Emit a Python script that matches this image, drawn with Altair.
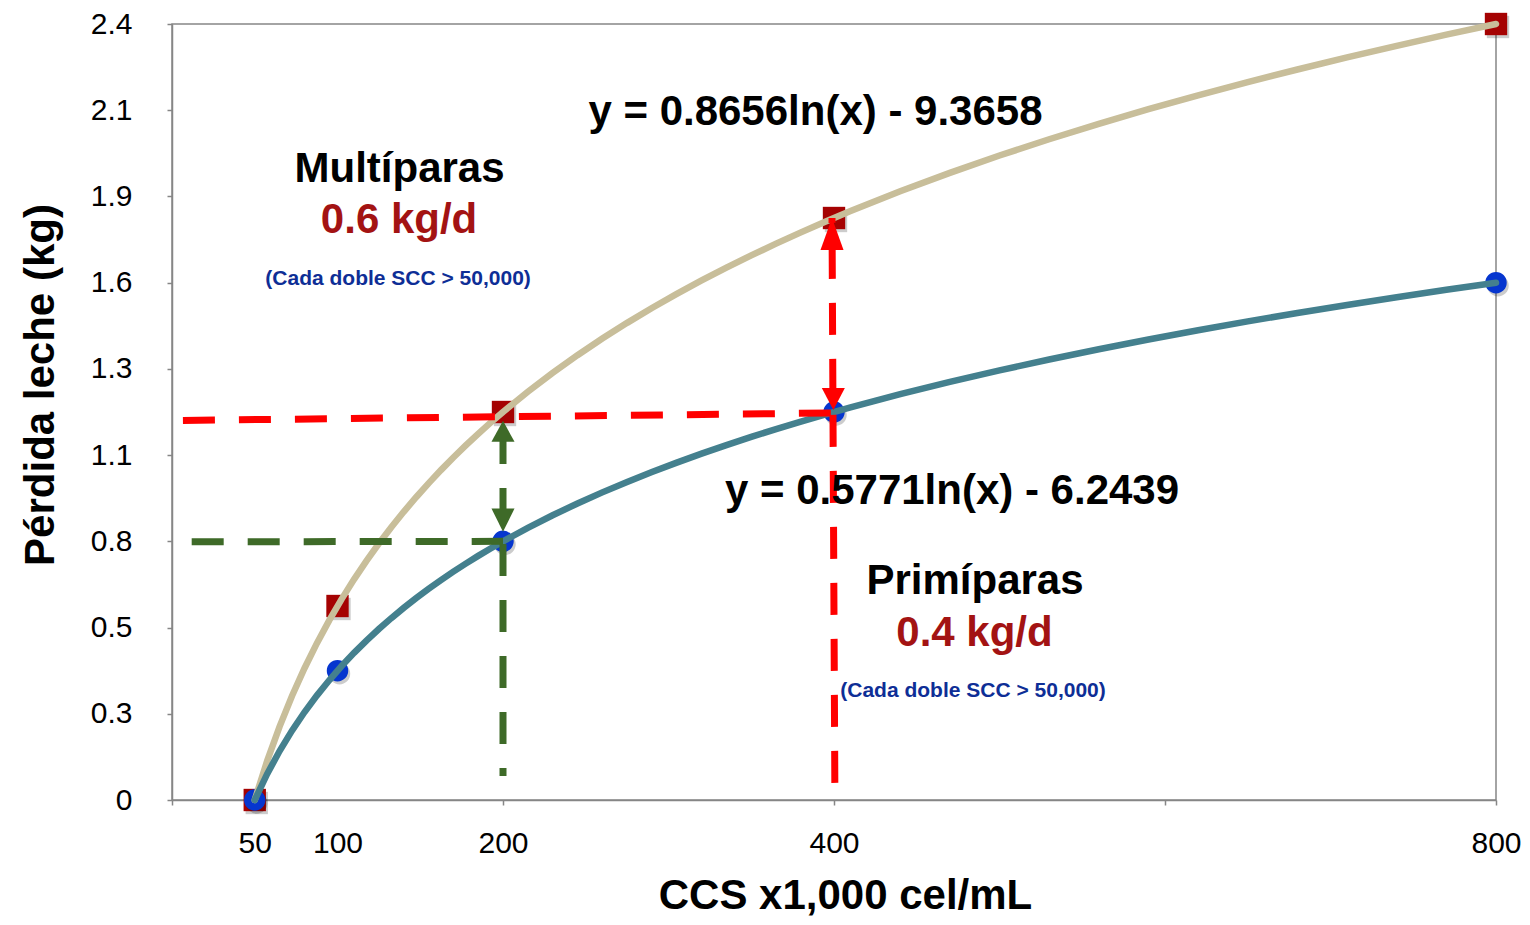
import altair as alt
import pandas as pd

# ---------------- data ----------------
ccs = [50, 100, 200, 400, 800]
primiparas = [0.0, 0.4, 0.8, 1.2, 1.6]
multiparas = [0.0, 0.6, 1.2, 1.8, 2.4]

x_tick_values = [0, 200, 400, 600, 800]
x_label_values = [50, 100, 200, 400, 800]
y_tick_values = [0, 0.266667, 0.533333, 0.8, 1.066667, 1.333333, 1.6, 1.866667, 2.133333, 2.4]

# dashed guide lines (start -> end, in data units)
seg_x1 = [6.6, 400.5, 11.9, 200.0]
seg_y1 = [1.174, 0.053, 0.7985, 1.138]
seg_x2 = [400.0, 398.8, 200.0, 200.0]
seg_y2 = [1.197, 1.80, 0.80, 0.0742]
seg_color = ["#FF0000", "#FF0000", "#3E6A28", "#3E6A28"]

# arrow heads (tip positions)
arr_x = [398.8, 399.6, 200.0, 200.0]
arr_y = [1.80, 1.206, 1.173, 0.830]
arr_shape = [
    "M0,0L-0.36,1L0.36,1Z",
    "M0,0L-0.36,-0.69L0.36,-0.69Z",
    "M0,0L-0.36,0.66L0.36,0.66Z",
    "M0,0L-0.36,-0.72L0.36,-0.72Z",
]
arr_color = ["#FF0000", "#FF0000", "#3E6A28", "#3E6A28"]

# annotations
ann_text = [
    "y = 0.8656ln(x) - 9.3658",
    "Multíparas",
    "0.6 kg/d",
    "(Cada doble SCC > 50,000)",
    "y = 0.5771ln(x) - 6.2439",
    "Primíparas",
    "0.4 kg/d",
    "(Cada doble SCC > 50,000)",
]
ann_x = [388.8, 137.5, 137.2, 136.6, 471.3, 485.2, 484.9, 484.0]
ann_y = [2.0876, 1.9113, 1.7536, 1.5943, 0.9155, 0.6371, 0.4763, 0.3201]
ann_color = ["#000000", "#000000", "#A31313", "#0E2E96",
             "#000000", "#000000", "#A31313", "#0E2E96"]
ann_size = [42, 42, 42, 21, 42, 42, 42, 21]

# ---------------- styles ----------------
FONT = "Liberation Sans"
GRAY = "#868686"
TAN = "#C8BE9A"
TEAL = "#44808E"
SQ_RED = "#A50202"
DOT_BLUE = "#0636CF"

pts = pd.DataFrame({
    "ccs": ccs * 2,
    "perdida": multiparas + primiparas,
    "serie": ["Multíparas"] * 5 + ["Primíparas"] * 5,
})
segs = pd.DataFrame({"x1": seg_x1, "y1": seg_y1, "x2": seg_x2, "y2": seg_y2, "color": seg_color})
arrows = pd.DataFrame({"x": arr_x, "y": arr_y, "shape": arr_shape, "color": arr_color})
ann = pd.DataFrame({"text": ann_text, "x": ann_x, "y": ann_y, "color": ann_color, "fs": ann_size})

xscale = alt.Scale(domain=[0, 800], nice=False, zero=False)
yscale = alt.Scale(domain=[0, 2.4], nice=False, zero=False)

y_axis = alt.Axis(
    values=y_tick_values,
    labelExpr="datum.value == 0 ? '0' : format(datum.value, '.1f')",
    labelFont=FONT, labelFontSize=30, labelColor="#000000", labelPadding=35,
    tickSize=5, tickWidth=1.5, tickColor=GRAY,
    domainColor=GRAY, domainWidth=1.5, grid=False,
    title="Pérdida leche (kg)", titleFont=FONT, titleFontSize=42,
    titleFontWeight="bold", titleColor="#000000",
    titleX=-118.5, titleY=360.5, titleBaseline="alphabetic", titleAlign="center",
    labelFlush=False, labelOverlap=False,
)

x_tick_axis = alt.Axis(
    values=x_tick_values, labels=False, tickSize=5, tickWidth=1.5, tickColor=GRAY,
    domainColor=GRAY, domainWidth=1.5, grid=False, orient="bottom",
)

x_label_axis = alt.Axis(
    values=x_label_values, ticks=False, tickSize=0, domain=False, grid=False, orient="bottom",
    labelFont=FONT, labelFontSize=30, labelColor="#000000", labelPadding=28,
    labelFlush=False, labelOverlap=False,
    title="CCS x1,000 cel/mL", titleFont=FONT, titleFontSize=42, titleFontWeight="bold",
    titleColor="#000000", titleX=673, titleY=108, titleBaseline="alphabetic", titleAlign="center",
)

Y = alt.Y("perdida:Q", scale=yscale, axis=y_axis)

curves = alt.Chart(pts).transform_regression(
    "ccs", "perdida", method="log", extent=[50, 800], groupby=["serie"]
).mark_line(strokeWidth=6.5, strokeCap="round").encode(
    x=alt.X("ccs:Q", scale=xscale, axis=None),
    y=Y,
    color=alt.Color("serie:N", scale=alt.Scale(domain=["Multíparas", "Primíparas"], range=[TAN, TEAL]), legend=None),
    detail="serie:N",
)

sq_shadow = alt.Chart(pts).transform_filter(alt.datum.serie == "Multíparas").mark_point(
    shape="square", filled=True, size=500, color="#000000", opacity=0.2, xOffset=2, yOffset=3, strokeWidth=0
).encode(x=alt.X("ccs:Q", scale=xscale, axis=None), y=Y)

squares = alt.Chart(pts).transform_filter(alt.datum.serie == "Multíparas").mark_point(
    shape="square", filled=True, size=500, color=SQ_RED, opacity=1, strokeWidth=0
).encode(x=alt.X("ccs:Q", scale=xscale, axis=x_tick_axis, title=None), y=Y)

dot_shadow = alt.Chart(pts).transform_filter(alt.datum.serie == "Primíparas").mark_circle(
    size=460, color="#000000", opacity=0.2, xOffset=2, yOffset=3
).encode(x=alt.X("ccs:Q", scale=xscale, axis=None), y=Y)

dots = alt.Chart(pts).transform_filter(alt.datum.serie == "Primíparas").mark_circle(
    size=460, color=DOT_BLUE, opacity=1
).encode(x=alt.X("ccs:Q", scale=xscale, axis=None), y=Y)

guides = alt.Chart(segs).mark_rule(strokeDash=[32, 24], strokeWidth=7, strokeCap="butt").encode(
    x=alt.X("x1:Q", scale=xscale, axis=None),
    y=alt.Y("y1:Q", scale=yscale, axis=y_axis),
    x2="x2:Q",
    y2="y2:Q",
    color=alt.Color("color:N", scale=None),
)

heads = alt.Chart(arrows).mark_point(filled=True, size=4096, opacity=1, strokeWidth=0).encode(
    x=alt.X("x:Q", scale=xscale, axis=None),
    y=alt.Y("y:Q", scale=yscale, axis=y_axis),
    shape=alt.Shape("shape:N", scale=None),
    color=alt.Color("color:N", scale=None),
)

texts = alt.Chart(ann).mark_text(font=FONT, fontWeight="bold", align="center", baseline="alphabetic").encode(
    x=alt.X("x:Q", scale=xscale, axis=x_label_axis),
    y=alt.Y("y:Q", scale=yscale, axis=y_axis),
    text="text:N",
    color=alt.Color("color:N", scale=None),
    size=alt.Size("fs:Q", scale=None),
)

chart = alt.layer(
    sq_shadow, squares, dot_shadow, dots, curves, guides, heads, texts
).resolve_axis(x="independent").properties(
    width=1324,
    height=776,
    padding={"left": 164, "top": 16, "right": 26, "bottom": 117},
    autosize=alt.AutoSizeParams(type="none"),
).configure_view(stroke=GRAY, strokeWidth=1.5)

chart.save("out.html", embed_options={"renderer": "svg", "actions": False})
